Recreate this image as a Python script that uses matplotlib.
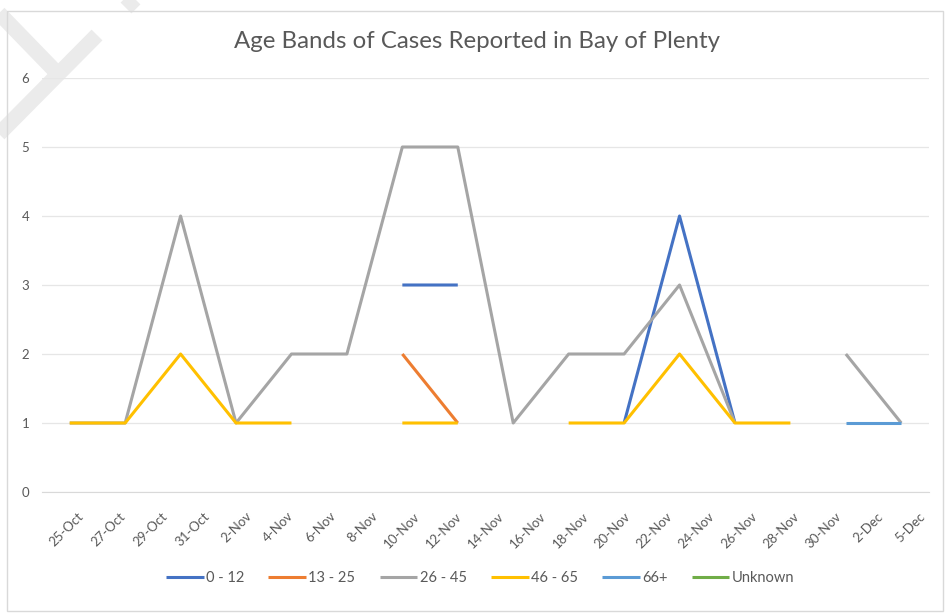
import numpy as np
import matplotlib
matplotlib.use('Agg')
import matplotlib.pyplot as plt
from matplotlib.patches import Rectangle
from matplotlib.lines import Line2D

nan = np.nan

# etiquetas do eixo x (como aparecem no gráfico)
tick_labels = ['25-Oct', '27-Oct', '29-Oct', '31-Oct', '2-Nov', '4-Nov', '6-Nov', '8-Nov',
               '10-Nov', '12-Nov', '14-Nov', '16-Nov', '18-Nov', '20-Nov', '22-Nov',
               '24-Nov', '26-Nov', '28-Nov', '30-Nov', '2-Dec', '5-Dec']

# 16 pontos por série (NaN = sem casos)
age_0_12 = [nan, nan, nan, nan, nan, nan, 3, 3, nan, nan, 1, 4, 1, nan, nan, nan]
age_13_25 = [nan, nan, nan, nan, nan, nan, 2, 1, nan, nan, nan, nan, nan, nan, nan, nan]
age_26_45 = [1, 1, 4, 1, 2, 2, 5, 5, 1, 2, 2, 3, 1, nan, 2, 1]
age_46_65 = [1, 1, 2, 1, 1, nan, 1, 1, nan, 1, 1, 2, 1, 1, nan, nan]
age_66 = [nan, nan, nan, nan, nan, nan, nan, nan, nan, nan, nan, nan, nan, nan, 1, 1]
unknown = [nan] * 16

series = [
    ('0 - 12', age_0_12, '#4472C4'),
    ('13 - 25', age_13_25, '#ED7D31'),
    ('26 - 45', age_26_45, '#A5A5A5'),
    ('46 - 65', age_46_65, '#FFC000'),
    ('66+', age_66, '#5B9BD5'),
    ('Unknown', unknown, '#70AD47'),
]

plt.rcParams['font.family'] = ['Lato', 'DejaVu Sans']
txt = '#595959'
W, H = 950, 613

fig = plt.figure(figsize=(9.5, 6.13), dpi=100)

# marca d'água (pedaço visível no canto superior esquerdo)
def px(p):
    return (p[0] / W, 1 - p[1] / H)

for a, b in [((-6, 8), (58, 74)), ((-6, 139), (97, 35)), ((126, 8), (142, -8))]:
    (x0, y0), (x1, y1) = px(a), px(b)
    fig.add_artist(Line2D([x0, x1], [y0, y1], transform=fig.transFigure, color='#EBEBEB',
                          linewidth=11, solid_capstyle='butt', zorder=0))

# moldura do gráfico
fig.patches.append(Rectangle((7 / W, 2 / H), 936 / W, 600 / H, transform=fig.transFigure,
                             fill=False, edgecolor='#D9D9D9', linewidth=1))

ax = fig.add_axes([42 / W, 1 - 492 / H, 887 / W, 414 / H])
ax.patch.set_alpha(0)

x = np.arange(len(age_26_45))
for nome, vals, cor in series:
    ax.plot(x, vals, color=cor, linewidth=2.2, label=nome, solid_capstyle='butt')

ax.set_xlim(-0.5, len(x) - 0.5)
ax.set_ylim(0, 6)
ax.set_yticks(range(7))
ax.yaxis.grid(True, color='#E6E6E6', linewidth=0.9)
ax.set_axisbelow(True)
for s in ['top', 'right', 'left']:
    ax.spines[s].set_visible(False)
ax.spines['bottom'].set_color('#D9D9D9')
ax.tick_params(axis='y', length=0, labelsize=9.5, labelcolor=txt, pad=9)

pos = np.linspace(0.13, 15.32, len(tick_labels))
ax.set_xticks(pos)
ax.set_xticklabels(tick_labels, rotation=45, ha='right', va='top', rotation_mode='anchor')
ax.tick_params(axis='x', length=0, labelsize=9.5, labelcolor=txt, pad=13)

fig.text(477 / W, 1 - 42 / H, 'Age Bands of Cases Reported in Bay of Plenty', fontsize=17.3,
         color=txt, ha='center', va='center')

fig.legend(loc='center', bbox_to_anchor=(480 / W, 1 - 578 / H), ncol=6, frameon=False,
           fontsize=10.5, labelcolor=txt, handlelength=2.6, handletextpad=0.15,
           columnspacing=1.65)

fig.savefig('out.png', dpi=100)
